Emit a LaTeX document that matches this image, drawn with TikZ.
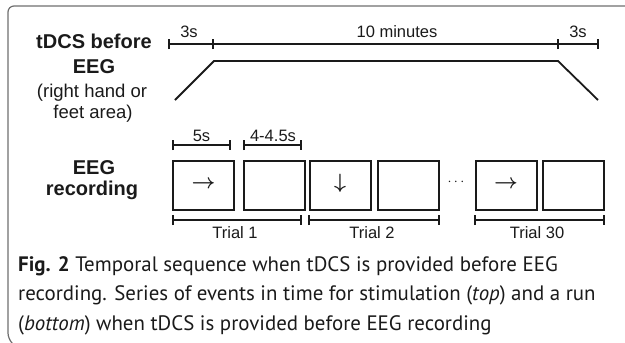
\documentclass[tikz,border=0pt]{standalone}
\usepackage{fontspec}
\setmainfont{Liberation Sans}
\newfontfamily\capfont{PT Sans}
\usetikzlibrary{arrows.meta}
\definecolor{framecol}{HTML}{6E6E6E}
\definecolor{inkcol}{HTML}{1A1A1A}
\begin{document}
\begin{tikzpicture}[x=1pt,y=-1pt,
  lbl/.style={font=\fontsize{16.5}{18}\selectfont, anchor=base, inner sep=0pt, text=inkcol},
  head/.style={font=\bfseries\fontsize{20}{22}\selectfont, anchor=base, inner sep=0pt, text=inkcol},
  sub/.style={font=\fontsize{18.5}{20}\selectfont, anchor=base, inner sep=0pt, text=inkcol},
  trialbox/.style={draw=inkcol, line width=2.2pt, minimum width=61pt, minimum height=49pt, inner sep=0pt, anchor=north west},
  sym/.style={font=\fontsize{21}{21}\selectfont\boldmath, inner sep=0pt, text=inkcol},
  span/.style={draw=inkcol, line width=1.7pt, {Bar[width=10pt]}-{Bar[width=10pt]}},
  tick/.style={draw=inkcol, line width=1.7pt},
  ramp/.style={draw=inkcol, line width=1.8pt},
  capline/.style={font=\capfont\fontsize{20.9}{24}\selectfont, anchor=base west, inner sep=0pt, text=inkcol}
]
\useasboundingbox (0,0) rectangle (625,343);
% frame
\draw[framecol, line width=1.2pt, rounded corners=6pt] (13,344) -- (8,339) -- (8,6) -- (627,6);

% left headings
\node[head] (h1) at (94,48) {tDCS before};
\node[head] (h2) at (94,73) {EEG};
\node[sub] (h3) at (92,97) {(right hand or};
\node[sub] (h4) at (93,118) {feet area)};
\node[head] (e1) at (94,174) {EEG};
\node[head] (e2) at (92,195) {recording};

% top timeline
\coordinate (t0) at (168,44);
\coordinate (t1) at (213,44);
\coordinate (t2) at (558,44);
\coordinate (t3) at (599,44);
\draw[span] (t0) -- (t3);
\draw[tick] ([yshift=-5pt]t1) -- ([yshift=5pt]t1);
\draw[tick] ([yshift=-5pt]t2) -- ([yshift=5pt]t2);
\node[lbl] (l3a) at (189,37) {3s};
\node[lbl] (l10) at (397,37) {10 minutes};
\node[lbl] (l3b) at (578,37) {3s};

% stimulation profile
\coordinate (r0) at (175,100);
\coordinate (r1) at (214,61);
\coordinate (r2) at (558,61);
\coordinate (r3) at (598,100);
\draw[ramp] (r0) -- (r1) -- (r2) -- (r3);

% trial boxes
\node[trialbox] (b1) at (172,160) {};
\node[trialbox] (b2) at (242.5,160) {};
\node[trialbox] (b3) at (308.5,160) {};
\node[trialbox] (b4) at (377,160) {};
\node[trialbox] (b5) at (474.5,160) {};
\node[trialbox] (b6) at (541.5,160) {};
\node[sym] (a1) at ([yshift=1pt]b1.center) {$\rightarrow$};
\node[sym] (a3) at ([yshift=2pt]b3.center) {$\downarrow$};
\node[sym] (a5) at ([yshift=1pt]b5.center) {$\rightarrow$};
\node[inner sep=0pt, font=\fontsize{14}{14}\selectfont, text=inkcol] (dots) at (456,182) {$\cdots$};

% brackets above
\coordinate (s1a) at (172,145);
\coordinate (s1b) at (230.7,145);
\coordinate (s2a) at (243,145);
\coordinate (s2b) at (302,145);
\draw[span] (s1a) -- (s1b);
\draw[span] (s2a) -- (s2b);
\node[lbl] (l5) at (201.5,141) {5s};
\node[lbl] (l4) at (273,141) {4-4.5s};

% trial brackets
\coordinate (u1a) at (172,220);
\coordinate (u1b) at (302,220);
\coordinate (u2a) at (308,220);
\coordinate (u2b) at (440,220);
\coordinate (u3a) at (474,220);
\coordinate (u3b) at (605,220);
\draw[span] (u1a) -- (u1b);
\draw[span] (u2a) -- (u2b);
\draw[span] (u3a) -- (u3b);
\node[lbl] (tr1) at (235,238) {Trial 1};
\node[lbl] (tr2) at (372,238) {Trial 2};
\node[lbl] (tr3) at (537,238) {Trial 30};

% caption
\node[capline] (c1) at (18,271) {\textbf{Fig. 2} Temporal sequence when tDCS is provided before EEG};
\node[capline] (c2) at (18,300.5) {recording. Series of events in time for stimulation (\textit{top}) and a run};
\node[capline] (c3) at (18,330) {(\textit{bottom}) when tDCS is provided before EEG recording};
\end{tikzpicture}
\end{document}
